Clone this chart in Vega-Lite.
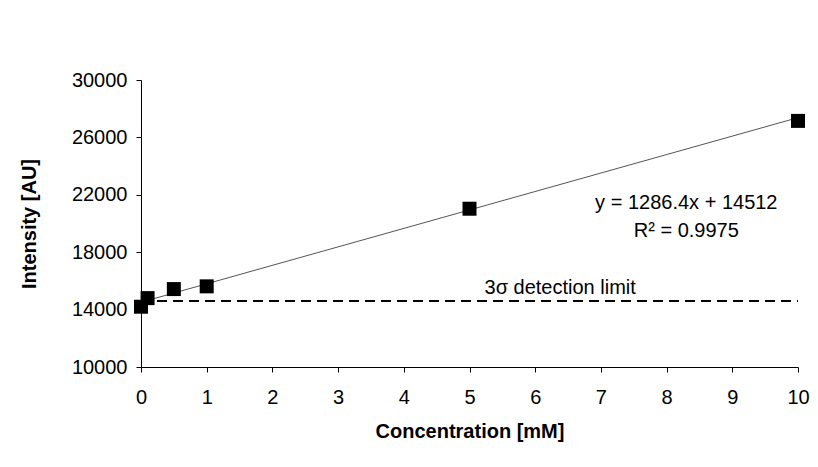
{
  "$schema": "https://vega.github.io/schema/vega-lite/v6.json",
  "width": 657,
  "height": 287,
  "autosize": {"type": "none"},
  "padding": {"left": 141, "top": 80, "right": 20, "bottom": 100},
  "background": "white",
  "config": {
    "view": {"stroke": null},
    "font": "Liberation Sans",
    "axis": {
      "grid": false,
      "domainColor": "#000000",
      "domainWidth": 1,
      "tickColor": "#000000",
      "tickWidth": 1,
      "tickSize": 5,
      "labelFlush": false,
      "labelOverlap": false,
      "labelFont": "Liberation Sans",
      "labelFontSize": 20,
      "labelColor": "#000000",
      "titleFont": "Liberation Sans",
      "titleFontSize": 20,
      "titleFontWeight": "bold",
      "titleColor": "#000000"
    }
  },
  "datasets": {
    "points": [
      {"conc": 0, "intensity": 14200},
      {"conc": 0.1, "intensity": 14800},
      {"conc": 0.5, "intensity": 15430},
      {"conc": 1, "intensity": 15620},
      {"conc": 5, "intensity": 21030},
      {"conc": 10, "intensity": 27150}
    ],
    "fit": [
      {"conc": 0, "intensity": 14512},
      {"conc": 10, "intensity": 27376}
    ],
    "limit": [
      {"start": 0, "end": 10, "intensity": 14600}
    ],
    "labels": [
      {"conc": 8.3, "intensity": 21010, "text": "y = 1286.4x + 14512"},
      {"conc": 8.3, "intensity": 19060, "text": "R² = 0.9975"},
      {"conc": 6.38, "intensity": 15090, "text": "3σ detection limit"}
    ]
  },
  "layer": [
    {
      "data": {"name": "limit"},
      "mark": {"type": "rule", "color": "#000000", "strokeWidth": 2, "strokeDash": [10, 6]},
      "encoding": {
        "x": {"field": "start", "type": "quantitative", "scale": {"domain": [0, 10], "nice": false}, "axis": {"values": [0,1,2,3,4,5,6,7,8,9,10], "format": "d", "title": "Concentration [mM]", "labelPadding": 15, "titlePadding": 14}},
        "x2": {"field": "end"},
        "y": {"field": "intensity", "type": "quantitative", "scale": {"domain": [10000, 30000], "nice": false, "zero": false}, "axis": {"values": [10000, 14000, 18000, 22000, 26000, 30000], "format": "d", "title": "Intensity [AU]", "labelPadding": 9, "titlePadding": 32}}
      }
    },
    {
      "data": {"name": "fit"},
      "mark": {"type": "line", "color": "#555555", "strokeWidth": 1},
      "encoding": {
        "x": {"field": "conc", "type": "quantitative"},
        "y": {"field": "intensity", "type": "quantitative"}
      }
    },
    {
      "data": {"name": "points"},
      "mark": {"type": "square", "filled": true, "color": "#000000", "size": 196, "opacity": 1},
      "encoding": {
        "x": {"field": "conc", "type": "quantitative"},
        "y": {"field": "intensity", "type": "quantitative"}
      }
    },
    {
      "data": {"name": "labels"},
      "mark": {"type": "text", "align": "center", "baseline": "alphabetic", "fontSize": 20, "color": "#000000", "font": "Liberation Sans"},
      "encoding": {
        "x": {"field": "conc", "type": "quantitative"},
        "y": {"field": "intensity", "type": "quantitative"},
        "text": {"field": "text"}
      }
    }
  ]
}
